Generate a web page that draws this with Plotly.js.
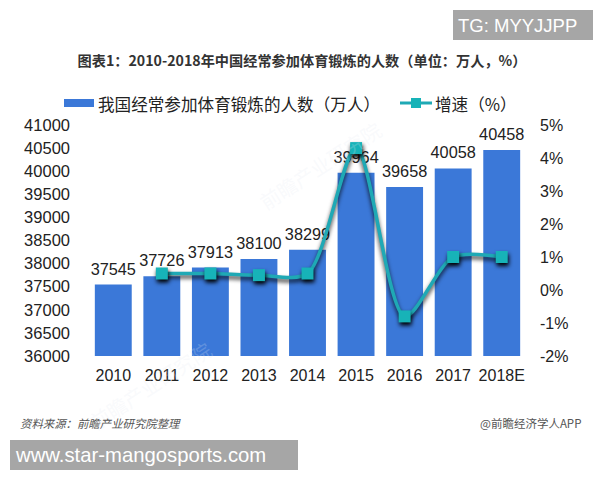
<!DOCTYPE html>
<html><head><meta charset="utf-8">
<script src="https://cdn.plot.ly/plotly-3.0.1.min.js"></script>
<style>html,body{margin:0;padding:0;background:#fff}#c{width:600px;height:480px}
.scatterlayer .lines path{filter:drop-shadow(0 3px 2px rgba(0,0,0,.8))}
.scatterlayer .points path{filter:drop-shadow(1px 3px 2px rgba(0,0,0,1))}</style>
</head><body><div id="c"></div>
<script>
var categories=['2010','2011','2012','2013','2014','2015','2016','2017','2018E'];
var people=[37545,37726,37913,38100,38299,39964,39658,40058,40458];
var growthCats=['2011','2012','2013','2014','2015','2016','2017','2018E'];
var growth=[0.5,0.5,0.45,0.5,4.3,-0.8,1.0,1.0];
var leftTicks=[36000,36500,37000,37500,38000,38500,39000,39500,40000,40500,41000];
var rightTicks=[-2,-1,0,1,2,3,4,5];
var rightLabels=['-2%','-1%','0%','1%','2%','3%','4%','5%'];
var cjk='"Noto Sans CJK SC",sans-serif', lat='"Liberation Sans",Arial,sans-serif';
var L=89,W=437,B=356,H=231;
function px(x){return (x-L)/W}
function py(y){return (B-y)/H}
var traces=[
{type:'bar',x:categories,y:people,marker:{color:'#3b78d8'},width:0.76,showlegend:false},
{type:'scatter',mode:'markers+text',x:categories,y:people,text:people.map(String),textposition:'top center',
 marker:{size:8,opacity:0},textfont:{family:lat,size:16.3,color:'#222'},cliponaxis:false,showlegend:false},
{type:'scatter',mode:'lines+markers',x:growthCats,y:growth,yaxis:'y2',showlegend:false,cliponaxis:false,
 line:{color:'#1fa9b5',width:3.5,shape:'spline',smoothing:0.8},
 marker:{symbol:'square',size:12,color:'#17b3b8'}}
];
function note(text,x,y,anchor,size,color,fam){return {text:text,xref:'paper',yref:'paper',x:px(x),y:py(y),xanchor:anchor,yanchor:'middle',showarrow:false,borderpad:0,borderwidth:0,font:{family:fam,size:size,color:color}}}
function mark(x,y,t){return {text:t,xref:'paper',yref:'paper',x:px(x),y:py(y),xanchor:'center',yanchor:'middle',showarrow:false,textangle:-33,font:{family:cjk,size:20,color:'rgba(228,233,242,0.22)'}}}
var layout={width:600,height:480,margin:{l:L,r:600-L-W,t:B-H,b:480-B},paper_bgcolor:'#fff',plot_bgcolor:'#fff',
 showlegend:false,
 xaxis:{type:'category',categoryorder:'array',categoryarray:categories,range:[-0.5,8.5],tickfont:{family:lat,size:16,color:'#222'},showline:false,ticks:'',showgrid:false,ticklabelstandoff:8},
 yaxis:{range:[36000,41000],tickmode:'array',tickvals:leftTicks,ticktext:leftTicks.map(String),tickfont:{family:lat,size:16.5,color:'#222'},showgrid:false,zeroline:false,showline:false,ticks:'',ticklabelstandoff:18},
 yaxis2:{overlaying:'y',side:'right',range:[-2,5],tickmode:'array',tickvals:rightTicks,ticktext:rightLabels,tickfont:{family:lat,size:16,color:'#222'},showgrid:false,zeroline:false,showline:false,ticks:'',ticklabelstandoff:13},
 title:{text:'<b>图表1：2010-2018年中国经常参加体育锻炼的人数（单位：万人，%）</b>',font:{family:cjk,size:14.2,color:'#333'},x:(81.5+522.5)/2/600,xanchor:'center',y:1-61/480,yanchor:'middle',pad:{t:0,b:0,l:0,r:0}},
 shapes:[
  {type:'rect',xref:'paper',yref:'paper',x0:px(64),x1:px(94),y0:py(107),y1:py(99),fillcolor:'#3b78d8',line:{width:0},layer:'above'},
  {type:'line',xref:'paper',yref:'paper',x0:px(400),x1:px(432),y0:py(103),y1:py(103),line:{color:'#1fa9b5',width:3},layer:'above'},
  {type:'rect',xref:'paper',yref:'paper',x0:px(411),x1:px(421),y0:py(108),y1:py(98),fillcolor:'#17b3b8',line:{width:0},layer:'above'},
  {type:'rect',xref:'paper',yref:'paper',x0:px(453),x1:px(593),y0:py(40),y1:py(10),fillcolor:'#a6a6a6',line:{width:0},layer:'above'},
  {type:'rect',xref:'paper',yref:'paper',x0:px(10),x1:px(298),y0:py(470),y1:py(440),fillcolor:'#a6a6a6',line:{width:0},layer:'above'}
 ],
 annotations:[
  mark(320,165,'前瞻产业研究院'),
  mark(150,385,'前瞻产业研究院'),
  note('我国经常参加体育锻炼的人数（万人）',98,104,'left',16.6,'#222',cjk),
  note('增速（%）',435,104,'left',16.6,'#222',cjk),
  note('TG: MYYJJPP',458,25,'left',18.5,'#fff',lat),
  note('www.star-mangosports.com',15,455,'left',20.3,'#fff',lat),
  note('<i>资料来源：前瞻产业研究院整理</i>',20,423,'left',11.4,'#555',cjk),
  note('@前瞻经济学人APP',581,423,'right',11.5,'#555',cjk)
 ]};
Plotly.newPlot('c',traces,layout,{displayModeBar:false,staticPlot:true});
</script></body></html>
